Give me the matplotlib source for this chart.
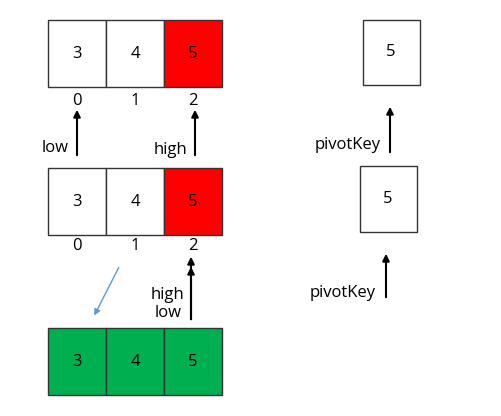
import matplotlib
matplotlib.use("Agg")
import matplotlib.pyplot as plt
from matplotlib.patches import Rectangle

# diagram data
values = [3, 4, 5]
indices = ["0", "1", "2"]
top_colors = ["white", "white", "#ff0000"]
mid_colors = ["white", "white", "#ff0000"]
bot_colors = ["#00b050", "#00b050", "#00b050"]
pivot = 5

fig = plt.figure(figsize=(5.01, 4.16), dpi=100)
ax = fig.add_axes([0, 0, 1, 1])
ax.set_xlim(0, 501)
ax.set_ylim(416, 0)
ax.axis("off")
plt.rcParams["font.family"] = "Open Sans"

def draw_row(x0, y0, w, h, vals, colors):
    for i, (v, c) in enumerate(zip(vals, colors)):
        ax.add_patch(Rectangle((x0 + i * w, y0), w, h, facecolor=c, edgecolor="#333333", lw=1))
        ax.text(x0 + i * w + w / 2, y0 + h / 2, str(v), ha="center", va="center", fontsize=12)

def arrow(x, y_from, y_to, color="black"):
    ax.annotate("", xy=(x, y_to), xytext=(x, y_from),
                arrowprops=dict(arrowstyle="-|>", color=color, lw=1.5, mutation_scale=10))

w, h = 58, 67
draw_row(48, 20, w, h, values, top_colors)
draw_row(48, 168, w, h, values, mid_colors)
draw_row(48, 328, w, h, values, bot_colors)

for i, s in enumerate(indices):
    ax.text(77 + i * w, 101, s, ha="center", va="center", fontsize=12)
    ax.text(77 + i * w, 246, s, ha="center", va="center", fontsize=12)

# top pointers
arrow(77, 158, 107)
ax.text(55, 148, "low", ha="center", va="center", fontsize=12)
arrow(195, 158, 107)
ax.text(171, 150, "high", ha="center", va="center", fontsize=12)

# middle pointers
arrow(191, 322, 254)
arrow(191, 322, 264)
ax.text(168, 295, "high", ha="center", va="center", fontsize=12)
ax.text(168, 313, "low", ha="center", va="center", fontsize=12)
ax.annotate("", xy=(93, 318), xytext=(120, 265),
            arrowprops=dict(arrowstyle="-|>", color="#5b9bd5", lw=1, mutation_scale=9))

# pivot boxes
ax.add_patch(Rectangle((363, 20), 57, 65, facecolor="white", edgecolor="#333333", lw=1))
ax.text(391, 52, str(pivot), ha="center", va="center", fontsize=12)
arrow(390, 155, 104)
ax.text(348, 145, "pivotKey", ha="center", va="center", fontsize=12)

ax.add_patch(Rectangle((360, 166), 57, 66, facecolor="white", edgecolor="#333333", lw=1))
ax.text(388, 199, str(pivot), ha="center", va="center", fontsize=12)
arrow(386, 300, 251)
ax.text(343, 293, "pivotKey", ha="center", va="center", fontsize=12)

fig.savefig("out.png", dpi=100)
